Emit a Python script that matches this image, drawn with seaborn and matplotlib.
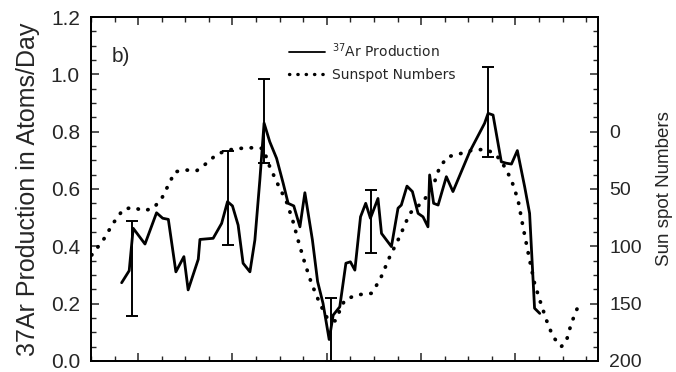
import numpy as np
import pandas as pd
import seaborn as sns
import matplotlib.pyplot as plt
from matplotlib.lines import Line2D
from matplotlib.ticker import MultipleLocator, FixedLocator

# 37Ar production rate (atoms/day)
ar_year = [1971.30, 1971.62, 1971.79, 1972.29, 1972.78, 1973.04, 1973.28, 1973.60,
           1973.94, 1974.12, 1974.55, 1974.62, 1975.18, 1975.54, 1975.79, 1976.00,
           1976.24, 1976.45, 1976.74, 1976.95, 1977.16, 1977.34, 1977.58, 1977.87,
           1978.15, 1978.36, 1978.60, 1978.86, 1979.07, 1979.39, 1979.61, 1979.84,
           1980.10, 1980.27, 1980.55, 1980.81, 1981.00, 1981.19, 1981.43, 1981.65,
           1981.85, 1982.17, 1982.32, 1982.74, 1983.02, 1983.16, 1983.40, 1983.63,
           1983.87, 1984.08, 1984.29, 1984.36, 1984.53, 1984.72, 1985.07, 1985.35,
           1986.06, 1986.69, 1986.84, 1987.05, 1987.40, 1987.61, 1987.83, 1988.08,
           1988.39, 1988.60, 1988.81, 1989.03]
ar_rate = [0.273, 0.315, 0.463, 0.408, 0.517, 0.498, 0.494, 0.311,
           0.364, 0.248, 0.355, 0.424, 0.428, 0.480, 0.556, 0.541,
           0.474, 0.341, 0.311, 0.422, 0.631, 0.830, 0.765, 0.707,
           0.620, 0.550, 0.541, 0.468, 0.587, 0.422, 0.277, 0.201,
           0.075, 0.160, 0.189, 0.341, 0.346, 0.317, 0.503, 0.550,
           0.498, 0.567, 0.445, 0.399, 0.533, 0.544, 0.610, 0.591,
           0.515, 0.503, 0.468, 0.649, 0.550, 0.544, 0.643, 0.591,
           0.730, 0.829, 0.864, 0.858, 0.695, 0.690, 0.687, 0.734,
           0.608, 0.515, 0.184, 0.166]

# error bars on selected points
err_year = [1971.72, 1975.82, 1977.34, 1980.17, 1981.89, 1986.84]
err_low = [0.157, 0.405, 0.690, 0.0, 0.378, 0.710]
err_high = [0.489, 0.732, 0.983, 0.221, 0.596, 1.024]

# smoothed sunspot numbers (right axis, inverted)
ss_year = [1970.03, 1970.52, 1970.94, 1971.37, 1971.79, 1972.22, 1972.64, 1973.00,
           1973.28, 1973.56, 1974.06, 1974.48, 1974.90, 1975.33, 1975.82, 1976.31,
           1976.88, 1977.30, 1977.58, 1977.94, 1978.29, 1978.55, 1978.78, 1979.07,
           1979.35, 1979.70, 1980.06, 1980.35, 1980.76, 1981.26, 1981.89, 1982.25,
           1982.67, 1983.09, 1983.52, 1984.08, 1984.50, 1984.79, 1985.14, 1985.71,
           1986.20, 1986.77, 1987.19, 1987.54, 1987.83, 1988.11, 1988.32, 1988.60,
           1988.81, 1989.03, 1989.31, 1989.59, 1989.94, 1990.15, 1990.37, 1990.65]
ss_num = [107.6, 94.5, 79.9, 67.7, 66.0, 69.0, 66.9, 58.2,
          46.6, 35.0, 33.5, 34.1, 27.6, 19.8, 16.0, 14.6,
          14.0, 14.6, 30.6, 46.6, 61.1, 77.0, 94.5, 114.8,
          132.3, 149.7, 164.3, 165.0, 146.8, 142.4, 141.0, 129.4,
          109.0, 91.6, 71.2, 61.1, 48.0, 30.6, 21.9, 18.9,
          16.0, 15.4, 20.4, 30.6, 42.2, 59.6, 82.9, 111.9,
          132.3, 146.8, 164.2, 178.8, 187.5, 183.2, 167.1, 152.6]

ar = pd.DataFrame({'year': ar_year, 'rate': ar_rate})
ss = pd.DataFrame({'year': ss_year, 'num': ss_num})

sns.set_style('ticks')
plt.rcParams['font.family'] = ['Liberation Sans', 'DejaVu Sans']
plt.rcParams['mathtext.default'] = 'regular'

fig = plt.figure(figsize=(6.76, 3.72), dpi=100)
ax = fig.add_axes([0.1346, 0.0296, 0.75, 0.9247])
ax2 = ax.twinx()

# production curve
sns.lineplot(data=ar, x='year', y='rate', ax=ax, color='black', linewidth=2.0,
             sort=False, estimator=None)
mid = (np.array(err_low) + np.array(err_high)) / 2
half = (np.array(err_high) - np.array(err_low)) / 2
ax.errorbar(err_year, mid, yerr=half, fmt='none', ecolor='black',
            elinewidth=1.4, capsize=4, capthick=1.4)

# sunspot curve
sns.lineplot(data=ss, x='year', y='num', ax=ax2, color='black', linewidth=2.7,
             linestyle=(0, (0.1, 2.6)), dash_capstyle='round',
             sort=False, estimator=None)

ax.set_xlim(1970, 1991.5)
ax.set_ylim(0, 1.2)
ax2.set_ylim(200, -100)

ax.xaxis.set_major_locator(MultipleLocator(4))
ax.xaxis.set_minor_locator(MultipleLocator(1))
ax.set_xticklabels([])
ax.yaxis.set_major_locator(MultipleLocator(0.2))
ax.yaxis.set_minor_locator(MultipleLocator(0.05))
ax.yaxis.set_major_formatter(plt.FormatStrFormatter('%.1f'))

ax2.yaxis.set_major_locator(FixedLocator([-100, -50, 0, 50, 100, 150, 200]))
ax2.set_yticklabels(['', '', '0', '50', '100', '150', '200'])
ax2.yaxis.set_minor_locator(MultipleLocator(12.5))

ax.tick_params(axis='x', which='both', direction='in', top=True, bottom=True,
               labelbottom=False)
ax.tick_params(axis='y', which='both', direction='in', right=False)
ax.tick_params(which='major', length=6, width=1.1, labelsize=15, pad=8)
ax.tick_params(which='minor', length=3.5, width=1.0)
ax2.tick_params(axis='y', which='both', direction='in')
ax2.tick_params(which='major', length=6, width=1.1, labelsize=14, pad=8)
ax2.tick_params(which='minor', length=3.5, width=1.0)

for a in (ax, ax2):
    for s in a.spines.values():
        s.set_linewidth(1.3)
        s.set_color('black')

ax.set_xlabel('')
ax.set_ylabel('37Ar Production in Atoms/Day', fontsize=18, labelpad=8)
ax2.set_ylabel('Sun spot Numbers', fontsize=13.5, labelpad=10)

ax.text(0.04, 0.885, 'b)', transform=ax.transAxes, fontsize=15, va='center')

handles = [Line2D([], [], color='black', linewidth=1.3),
           Line2D([], [], color='black', linewidth=2.4, linestyle=(0, (0.1, 2.4)),
                  dash_capstyle='round')]
ax.legend(handles, ['$^{37}$Ar Production', 'Sunspot Numbers'],
          loc='upper left', bbox_to_anchor=(0.39, 0.93), frameon=False,
          prop={'family': 'DejaVu Sans', 'size': 10}, handlelength=2.6,
          handletextpad=0.5, labelspacing=0.6, borderpad=0, borderaxespad=0)

fig.savefig('out.png', dpi=100)
